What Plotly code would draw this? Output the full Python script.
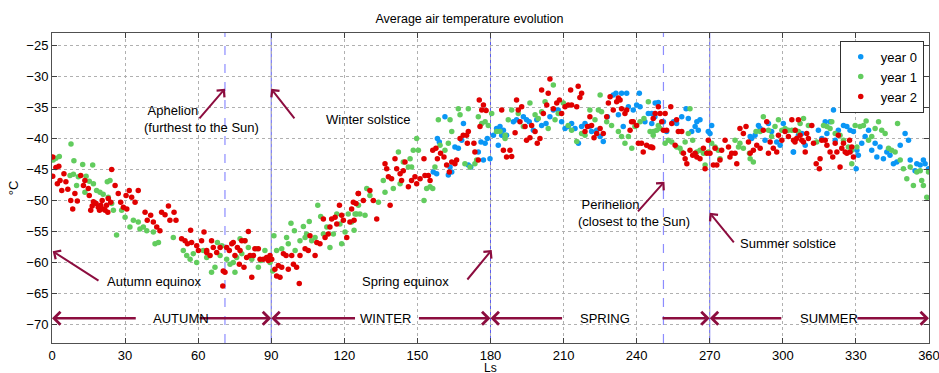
import plotly.graph_objects as go

# ---------------- data ----------------
ls0 = [161.3,158.2,159.0,156.5,157.9,162.7,164.1,163.4,165.4,166.8,168.2,168.9,170.9,171.9,175.0,176.1,
       177.1,177.8,178.7,179.8,181.2,182.5,183.9,185.3,186.6,183.2,
       184.6,189.4,190.7,193.5,194.8,195.9,197.6,199.0,201.0,202.8,204.4,205.8,207.8,209.2,210.6,211.9,
       213.3,214.7,216.1,217.4,218.8,220.6,221.5,223.6,225.0,226.3,228.0,230.4,231.5,233.8,235.9,236.6,
       238.6,240.0,241.1,241.4,243.4,244.8,246.2,247.5,232.5,234.5,
       246.2,247.6,248.9,251.0,252.3,255.1,256.4,258.5,260.3,261.2,262.6,264.0,264.7,266.0,265.3,269.4,
       270.1,270.8,286.6,287.2,288.6,290.0,290.7,292.7,294.1,295.4,297.5,298.9,300.2,301.6,304.3,
       304.4,306.4,307.8,309.2,314.6,316.0,317.4,318.1,319.4,320.8,321.5,322.8,324.9,326.3,327.6,329.0,
       330.4,330.1,331.0,332.4,333.8,335.2,336.5,337.9,338.6,339.9,341.3,342.7,344.0,345.4,346.8,348.2,
       350.2,351.6,352.3,354.3,355.0,356.4,357.7,358.4,359.8]
t0 = [-36.5,-40.0,-40.6,-45.4,-45.7,-45.9,-45.4,-44.6,-41.4,-41.6,-40.3,-37.6,-44.3,-44.6,-42.2,-40.6,
      -43.5,-40.8,-40.0,-43.3,-39.5,-38.4,-38.1,-38.7,-39.5,-41.1,
      -39.5,-37.3,-37.0,-36.5,-37.0,-37.3,-38.7,-37.0,-37.9,-37.6,-36.5,-35.4,-35.4,-37.3,-38.4,-38.1,
      -37.6,-38.4,-40.8,-38.1,-37.6,-38.1,-38.9,-38.7,-39.7,-40.5,-36.5,-33.0,-32.7,-32.7,-32.7,-34.9,
      -35.4,-34.6,-32.7,-34.9,-37.3,-36.0,-37.6,-36.5,-36.2,-38.1,
      -36.0,-34.3,-34.2,-37.3,-38.9,-37.3,-37.6,-36.5,-35.2,-36.8,-38.9,-38.1,-37.3,-37.0,-38.7,-38.9,
      -39.2,-37.9,-39.7,-40.0,-39.5,-37.9,-38.4,-40.3,-37.6,-38.9,-40.6,-41.1,-37.6,-38.7,-42.2,
      -42.2,-39.5,-39.2,-41.1,-38.7,-40.0,-37.3,-39.2,-37.3,-35.4,-40.3,-38.7,-37.9,-38.1,-38.7,-38.9,
      -41.9,-44.9,-42.7,-40.8,-39.7,-38.7,-41.9,-40.8,-43.0,-41.4,-43.3,-42.2,-42.7,-44.1,-43.8,-41.1,
      -39.2,-40.3,-43.5,-45.2,-44.1,-44.3,-43.5,-44.1,-44.9]

ls1 = [7.8,1.6,3.0,0.5,9.0,12.6,16.7,7.4,8.8,10.8,10.1,13.5,14.0,15.3,17.0,18.3,19.7,21.0,22.7,23.8,
       23.1,24.5,25.2,26.5,28.6,30.0,32.0,33.4,35.4,36.1,37.5,38.9,41.6,42.3,43.7,49.8,53.9,55.3,56.7,
       59.4,58.0,
       62.1,63.5,65.5,66.9,67.9,69.0,69.7,71.7,73.1,74.4,75.1,75.8,77.2,77.9,79.2,80.6,82.0,84.0,84.7,
       85.7,87.4,89.5,91.1,90.6,92.2,94.3,96.3,97.0,98.1,99.5,99.8,101.8,103.2,103.9,104.5,105.6,106.6,
       108.0,109.1,110.3,111.4,112.8,114.1,115.5,116.9,118.2,118.9,120.3,121.6,123.0,124.0,125.1,125.8,
       124.4,126.4,128.5,129.2,130.5,134.0,136.0,136.7,140.1,142.2,142.9,144.2,146.3,147.0,147.6,148.3,
       149.7,150.4,152.7,153.8,155.2,156.3,157.2,158.6,159.3,161.3,162.7,164.1,163.4,166.8,167.5,170.9,
       169.5,171.6,173.6,174.3,175.0,176.4,177.8,179.1,180.5,182.5,183.9,186.0,187.3,
       186.0,188.7,191.4,193.5,196.2,198.3,199.6,201.0,202.4,203.7,205.8,206.5,207.8,209.9,211.9,213.3,
       215.4,217.4,218.8,220.8,222.9,224.3,225.0,225.6,227.7,229.7,232.5,233.8,235.2,236.6,238.0,239.3,
       241.4,243.0,244.8,245.5,246.8,248.2,
       246.9,248.9,249.6,251.7,253.0,254.4,256.4,257.8,258.5,259.9,261.2,261.9,263.0,264.7,266.0,267.4,
       268.1,269.4,270.8,272.2,273.5,274.2,280.4,281.8,282.4,283.8,286.3,286.6,287.9,289.0,290.7,292.0,
       294.1,295.4,296.8,298.2,299.6,300.9,302.3,
       303.7,305.0,306.4,307.1,308.5,310.5,313.9,316.7,318.1,319.4,320.1,321.5,323.5,324.9,326.9,328.3,
       328.3,329.7,330.4,331.7,333.1,334.2,335.2,336.5,337.9,339.3,340.6,342.0,343.4,344.7,346.1,347.1,
       348.2,349.5,350.9,352.3,353.6,355.0,356.4,357.0,357.7,359.1,359.8]
t1 = [-40.9,-43.2,-42.9,-43.5,-43.6,-44.2,-44.3,-46.0,-45.8,-46.2,-47.6,-48.7,-46.1,-46.9,-47.3,-48.4,
      -48.7,-49.0,-47.0,-46.8,-49.5,-50.5,-51.6,-55.6,-51.6,-52.7,-54.3,-53.2,-53.5,-54.6,-54.3,-54.9,
      -55.1,-57.0,-56.8,-56.0,-58.1,-58.9,-59.5,-60.0,-58.6,
      -58.1,-59.2,-61.6,-60.8,-56.8,-58.9,-57.3,-59.5,-60.3,-60.0,-61.6,-59.2,-56.2,-58.6,-56.5,-57.6,
      -59.5,-57.8,-60.8,-59.7,-58.1,-60.0,-55.7,-61.4,-58.1,-57.8,-56.0,-57.0,-53.7,-54.9,-58.1,-56.5,
      -54.2,-56.0,-55.4,-53.4,-56.5,-56.0,-50.8,-52.6,-55.4,-54.3,-57.6,-55.4,-52.2,-53.8,-57.0,-55.1,
      -52.2,-53.5,-54.8,-52.2,-50.8,
      -52.2,-52.2,-52.4,-48.1,-49.2,-50.3,-46.8,-48.7,-48.1,-42.2,-47.3,-43.8,-44.6,-43.3,-44.6,-41.9,
      -40.0,-41.9,-50.0,-48.1,-47.8,-48.1,-44.6,-37.0,-41.1,-41.9,-40.8,-38.9,-37.0,-35.2,-36.2,-35.2,
      -44.1,-44.6,-44.1,-43.5,-36.5,-37.6,-37.3,-37.9,-36.0,-38.9,-38.9,-39.5,-37.0,
      -40.0,-35.4,-36.0,-38.1,-34.3,-36.2,-36.8,-35.7,-34.1,-38.4,-31.4,-37.0,-36.0,-34.3,-37.9,-38.7,
      -40.5,-39.2,-39.5,-35.4,-37.0,-35.4,-33.0,-35.7,-37.3,-37.9,-38.9,-39.7,-40.8,-39.7,-41.6,-38.1,
      -37.3,-36.8,-34.1,-38.9,-39.5,-38.7,
      -38.9,-37.9,-38.4,-40.8,-40.3,-40.6,-41.4,-41.6,-42.2,-40.6,-39.2,-35.2,-40.3,-42.2,-41.9,-42.4,
      -44.3,-42.2,-40.8,-41.4,-41.9,-43.3,-40.3,-41.4,-40.8,-41.6,-42.4,-43.3,-43.8,-38.9,-38.9,-36.5,
      -38.7,-39.7,-38.1,-37.0,-38.7,-38.4,-38.7,
      -38.7,-38.7,-38.9,-37.6,-36.8,-37.9,-40.6,-37.9,-38.1,-38.4,-37.3,-39.2,-39.5,-40.3,-41.4,-41.9,
      -44.1,-37.9,-41.4,-38.1,-37.9,-37.2,-40.3,-39.7,-38.4,-37.3,-38.7,-39.2,-41.6,-41.9,-42.2,-37.6,
      -43.5,-44.9,-46.5,-44.6,-47.6,-45.4,-45.2,-46.8,-47.6,-49.5,-45.4]

ls2 = [0.3,0.3,1.6,2.2,2.8,3.3,4.0,4.9,5.7,6.5,7.7,8.5,9.4,10.4,11.8,12.9,13.5,15.3,15.9,14.9,16.5,17.0,
       18.1,19.0,19.5,20.0,20.6,21.1,21.8,22.4,22.9,23.1,24.5,24.1,25.9,27.2,28.2,29.3,30.4,31.7,32.7,
       30.7,34.1,35.4,38.2,39.1,40.5,41.6,43.0,44.3,45.0,46.4,47.8,48.4,50.1,50.9,53.2,54.6,55.6,56.9,
       57.3,59.4,60.1,63.5,
       62.4,61.4,63.5,65.5,66.2,64.9,67.6,69.0,70.3,70.1,71.0,71.7,72.8,73.8,74.4,75.1,76.1,77.2,77.9,
       79.2,80.6,76.9,78.8,79.9,81.3,82.0,82.7,83.3,84.7,85.4,86.8,88.1,89.5,88.8,90.2,91.5,92.2,93.6,
       92.9,94.3,95.0,96.1,97.0,98.4,99.1,100.4,101.5,101.8,103.9,105.2,105.9,108.0,108.7,110.0,111.4,
       112.1,113.4,114.1,114.8,116.2,116.9,118.0,118.9,119.6,121.0,122.3,123.0,123.7,124.8,125.8,124.0,
       125.7,127.8,130.5,131.9,133.3,138.8,136.7,137.4,138.1,139.4,140.8,141.5,142.9,143.5,144.2,144.9,
       146.3,147.6,149.0,149.7,151.1,152.7,153.1,154.5,155.2,156.3,157.6,158.2,159.5,160.9,162.0,163.1,
       164.1,165.4,166.1,167.5,168.8,170.2,170.5,170.9,173.2,173.6,175.4,177.1,178.2,176.4,175.7,175.0,
       184.6,
       185.3,186.6,188.7,188.0,190.1,191.4,190.7,192.8,192.1,194.2,194.8,196.2,196.9,198.3,199.2,200.3,
       201.0,201.7,203.1,203.7,204.4,205.8,207.2,208.3,209.2,210.6,211.9,212.9,213.3,215.4,216.0,216.7,
       217.4,218.8,219.8,220.8,221.5,222.5,223.6,225.0,226.3,227.7,228.4,229.1,230.4,231.8,232.5,233.2,
       233.8,235.2,235.9,237.3,237.9,238.6,240.0,240.7,242.0,242.7,244.1,245.5,246.6,246.8,
       246.2,247.6,248.9,249.6,250.3,251.0,251.7,252.3,254.0,254.4,255.8,256.4,257.1,258.5,259.2,259.9,
       260.6,261.9,263.0,264.0,264.7,266.0,267.4,268.1,268.8,269.4,270.1,271.5,272.2,272.9,274.2,274.9,
       276.3,277.7,278.3,279.0,280.4,281.1,282.4,283.8,284.9,285.9,286.6,287.9,289.3,290.7,292.0,293.4,
       294.1,294.8,296.1,297.5,298.2,299.6,300.9,302.3,303.7,305.0,306.4,
       304.4,305.1,305.7,307.1,307.8,308.5,309.2,309.8,310.5,311.9,312.6,313.7,315.0,315.3,316.0,317.4,
       318.1,319.4,320.5,321.5,322.2,322.8,323.5,324.2,324.9,325.6,326.3,327.4,327.6,328.3,329.0]
t2 = [-43.0,-46.1,-44.7,-47.3,-44.5,-46.8,-48.4,-45.7,-47.0,-48.2,-50.0,-51.4,-48.9,-50.1,-46.0,-47.6,
      -46.8,-49.2,-51.6,-48.1,-50.9,-50.2,-50.5,-51.1,-51.6,-50.8,-50.0,-51.4,-51.6,-50.8,-51.9,-49.7,
      -45.0,-50.3,-47.6,-48.9,-50.3,-51.1,-49.2,-48.4,-49.5,-51.4,-50.3,-48.4,-51.9,-53.2,-52.4,-53.5,
      -54.3,-54.9,-51.9,-52.3,-50.9,-53.2,-51.9,-53.2,-56.2,-56.5,-57.0,-54.8,-56.8,-57.3,-58.1,-58.4,
      -55.1,-56.5,-58.1,-56.5,-57.6,-58.9,-58.4,-57.6,-61.4,-63.8,-61.6,-57.6,-58.1,-57.0,-56.8,-58.9,
      -57.6,-58.1,-56.5,-56.5,-55.0,-60.3,-60.8,-59.2,-58.9,-62.4,-58.9,-57.8,-57.8,-59.5,-59.5,-59.2,
      -58.9,-59.7,-59.5,-61.1,-62.2,-62.4,-60.5,-60.8,-58.6,-58.9,-61.1,-58.9,-60.3,-60.8,-63.4,-58.9,
      -57.8,-58.1,-55.7,-58.9,-56.8,-57.0,-53.0,-56.0,-55.4,-54.3,-53.0,-52.7,-53.8,-50.8,-52.4,-53.2,
      -56.0,-53.5,-51.4,-50.3,-50.5,-48.9,-53.2,
      -48.9,-50.0,-48.4,-50.0,-53.0,-50.8,-44.1,-44.9,-46.2,-46.5,-43.3,-44.9,-45.7,-46.8,-45.2,-43.8,
      -47.8,-46.8,-46.2,-47.3,-46.5,-43.3,-46.0,-46.0,-46.8,-41.9,-41.6,-43.3,-42.4,-43.0,-44.3,-45.4,
      -43.8,-44.1,-43.5,-40.0,-39.5,-39.5,-40.8,-38.9,-40.8,-42.2,-33.8,-34.6,-35.5,-35.4,-38.1,-43.5,
      -35.4,
      -41.9,-43.0,-42.9,-41.9,-39.1,-35.4,-33.8,-34.9,-37.3,-38.1,-40.3,-39.9,-37.9,-38.9,-40.8,-40.0,
      -32.2,-36.0,-34.6,-32.7,-30.4,-35.2,-34.3,-33.8,-36.0,-34.9,-34.6,-32.2,-34.6,-34.9,-31.6,-33.4,
      -32.7,-38.9,-38.1,-36.5,-37.9,-39.9,-39.2,-38.4,-39.2,-36.5,-34.3,-33.3,-35.4,-34.1,-33.5,-33.8,
      -35.2,-36.0,-35.4,-38.7,-37.3,-37.3,-37.9,-40.8,-40.8,-42.2,-41.1,-41.4,-41.5,-36.8,
      -41.4,-36.0,-34.9,-36.0,-37.3,-38.7,-36.0,-38.7,-34.9,-37.6,-41.1,-37.0,-38.9,-38.9,-42.4,-43.3,
      -44.1,-41.9,-42.7,-42.4,-43.0,-43.3,-41.6,-44.9,-42.4,-40.3,-42.4,-44.3,-41.6,-44.3,-43.5,-41.9,
      -40.3,-41.4,-43.0,-42.4,-42.4,-44.1,-38.4,-39.2,-38.1,-40.6,-42.4,-41.9,-41.1,-41.6,-38.7,-37.3,
      -42.4,-40.6,-41.6,-42.2,-39.5,-40.3,-38.9,-39.7,-37.0,-40.6,-37.0,
      -40.3,-38.7,-40.0,-39.5,-40.3,-40.6,-42.2,-39.2,-40.0,-37.9,-40.8,-44.1,-44.9,-43.3,-40.3,-40.3,
      -41.1,-42.2,-43.0,-40.8,-42.2,-39.5,-44.6,-41.6,-40.8,-42.2,-42.4,-40.3,-42.2,-41.4,-43.0]

x_ticks = [0, 30, 60, 90, 120, 150, 180, 210, 240, 270, 300, 330, 360]
y_ticks = [-70, -65, -60, -55, -50, -45, -40, -35, -30, -25]

solid_lines = [90, 180, 270]
dashed_lines = [71, 251]

# season arrows: (head, tail)
season_segments = [(0, 35), (90, 60), (90, 125), (180, 150), (180, 210), (270, 250), (270, 300), (360, 330)]
season_labels = ["AUTUMN", "WINTER", "SPRING", "SUMMER"]
season_label_x = [53, 137, 227, 319]
season_y = -69

# event arrows: (head x, head y, tail x, tail y)
event_arrows = [(71, -32, 60, -37), (90, -32, 100, -37), (0.3, -58.2, 19.7, -63.1),
                (180.5, -58, 170, -63), (251.4, -47, 240, -52), (270, -52, 280.4, -57)]
event_texts = ["&nbsp;Aphelion<br>(furthest to the Sun)", "Winter solstice", "Autumn equinox",
               "Spring equinox", "&nbsp;Perihelion<br>(closest to the Sun)", "Summer solstice"]
event_text_x = [37.0, 111.5, 21.8, 126.3, 215.0, 281.6]
event_text_y = [-36.9, -36.9, -63.1, -63.0, -52.0, -57.0]

MAROON = "#8c0d3f"
FONT = "Liberation Sans, Arial, sans-serif"

fig = go.Figure()
fig.add_trace(go.Scatter(x=ls0, y=t0, mode="markers", name="year 0",
                         marker=dict(color="#0a96f5", size=5.5)))
fig.add_trace(go.Scatter(x=ls1, y=t1, mode="markers", name="year 1",
                         marker=dict(color="#62cc5e", size=5.5)))
fig.add_trace(go.Scatter(x=ls2, y=t2, mode="markers", name="year 2",
                         marker=dict(color="#e00000", size=5.5)))

shapes = []
for xv in solid_lines:
    shapes.append(dict(type="line", xref="x", yref="paper", x0=xv, x1=xv, y0=0, y1=1,
                       line=dict(color="#5b5bf0", width=1), layer="below"))
for xv in dashed_lines:
    shapes.append(dict(type="line", xref="x", yref="paper", x0=xv, x1=xv, y0=0, y1=1,
                       line=dict(color="#8c8cff", width=1.2, dash="dash"), layer="below"))

annotations = []
for head, tail in season_segments:
    annotations.append(dict(x=head, y=season_y, ax=tail, ay=season_y, xref="x", yref="y",
                            axref="x", ayref="y", text="", showarrow=True, arrowhead=4,
                            arrowsize=1.0, arrowwidth=2.5, arrowcolor=MAROON,
                            standoff=0, startstandoff=0))
for lab, xv in zip(season_labels, season_label_x):
    annotations.append(dict(x=xv, y=season_y, xref="x", yref="y", text=lab, showarrow=False,
                            font=dict(family=FONT, size=13, color="black")))
for hx, hy, tx, ty in event_arrows:
    annotations.append(dict(x=hx, y=hy, ax=tx, ay=ty, xref="x", yref="y", axref="x", ayref="y",
                            text="", showarrow=True, arrowhead=4, arrowsize=1.0, arrowwidth=2,
                            arrowcolor=MAROON, standoff=0, startstandoff=0))
for txt, xv, yv in zip(event_texts, event_text_x, event_text_y):
    annotations.append(dict(x=xv, y=yv, xref="x", yref="y", text=txt, showarrow=False,
                            xanchor="left", align="left",
                            font=dict(family=FONT, size=13, color="black")))
# x-axis title placed just below the tick labels
annotations.append(dict(x=0.5, y=-0.053, xref="paper", yref="paper", text="Ls", showarrow=False,
                        xanchor="center", yanchor="top",
                        font=dict(family=FONT, size=12, color="black")))

fig.update_layout(
    width=939, height=373,
    margin=dict(l=52, r=10, t=33, b=30),
    paper_bgcolor="white", plot_bgcolor="white",
    font=dict(family=FONT, size=13, color="black"),
    title=dict(text="Average air temperature evolution", x=0.5, xanchor="center",
               y=0.95, yanchor="middle", font=dict(family=FONT, size=12.5, color="black")),
    showlegend=True,
    legend=dict(x=0.994, y=0.975, xanchor="right", yanchor="top", bgcolor="white",
                bordercolor="#303030", borderwidth=1, font=dict(family=FONT, size=13),
                itemsizing="trace", tracegroupgap=0),
    shapes=shapes, annotations=annotations,
)
fig.update_xaxes(range=[0, 360.01], tickvals=x_ticks, ticks="inside", ticklen=5, tickcolor="#404040",
                 showline=True, linecolor="#505050", linewidth=1, mirror="ticks",
                 showgrid=True, gridcolor="#b0b0b0", griddash="dot", gridwidth=1, zeroline=False,
                 tickfont=dict(family=FONT, size=13), automargin=False,
                 ticklabeloverflow="allow")
fig.update_yaxes(range=[-73, -23], tickvals=y_ticks, ticks="inside", ticklen=5, tickcolor="#404040",
                 showline=True, linecolor="#505050", linewidth=1, mirror="ticks",
                 showgrid=True, gridcolor="#b0b0b0", griddash="dot", gridwidth=1, zeroline=False,
                 title=dict(text="°C", standoff=4, font=dict(family=FONT, size=13)),
                 tickfont=dict(family=FONT, size=13), automargin=False)

fig.write_html("out.html")
